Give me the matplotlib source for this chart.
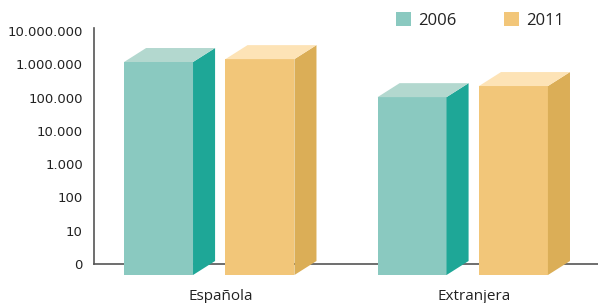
import numpy as np
import matplotlib.pyplot as plt
from matplotlib.patches import Polygon, Patch

# data
categories = ["Española", "Extranjera"]
years = ["2006", "2011"]
values_2006 = [1170000, 103000]
values_2011 = [1430000, 222000]
tick_values = [1, 10, 100, 1000, 10000, 100000, 1000000, 10000000]
tick_labels = ["0", "10", "100", "1.000", "10.000", "100.000", "1.000.000", "10.000.000"]

front = ["#8AC9C0", "#F2C679"]
side = ["#1EA797", "#DBAE57"]
top = ["#B3D8CF", "#FDE3B6"]

W, H = 598, 303
fig = plt.figure(figsize=(W / 100, H / 100), dpi=100)
ax = fig.add_axes([94 / W, (H - 280) / H, 1 - 94 / W, 260 / H])
ax.set_yscale("log")
ax.set_ylim(10 ** -0.48, 10 ** 7.33)
ax.set_xlim(-0.4546, 1.5335)

width = 0.272
offset = 0.2
dx = 0.087          # depth in x data units (~22 px)
k = 10 ** 0.42      # depth in log y (~14 px)
base = 10 ** -0.33  # front face bottom sits below the axis line

x = np.arange(len(categories))
for i, vals in enumerate([values_2006, values_2011]):
    for xc, v in zip(x + (i - 0.5) * 2 * offset, vals):
        xl, xr = xc - width / 2, xc + width / 2
        ax.add_patch(Polygon([(xl, base), (xr, base), (xr, v), (xl, v)],
                             closed=True, fc=front[i], ec="none", zorder=3))
        ax.add_patch(Polygon([(xr, base), (xr + dx, base * k), (xr + dx, v * k), (xr, v)],
                             closed=True, fc=side[i], ec="none", zorder=3))
        ax.add_patch(Polygon([(xl, v), (xl + dx, v * k), (xr + dx, v * k), (xr, v)],
                             closed=True, fc=top[i], ec="none", zorder=3))

# axes styling
for s in ["top", "right"]:
    ax.spines[s].set_visible(False)
ax.spines["bottom"].set_position(("data", 1))
ax.spines["left"].set_bounds(1, 10 ** 7.1)
for s in ["left", "bottom"]:
    ax.spines[s].set_color("#555555")
    ax.spines[s].set_linewidth(1.2)
    ax.spines[s].set_zorder(1)

ax.set_yticks(tick_values)
ax.set_yticklabels(tick_labels, fontsize=9.5, color="#222222", family="DejaVu Sans")
ax.yaxis.set_minor_locator(plt.NullLocator())
ax.tick_params(axis="y", length=0, pad=8)
ax.set_xticks([])

for xc, lab in zip(x, categories):
    ax.annotate(lab, xy=(xc + dx / 2, 0), xycoords=("data", "axes fraction"),
                xytext=(0, -17), textcoords="offset pixels", ha="center", va="center",
                fontsize=11, family="Open Sans", color="#222222", annotation_clip=False)

handles = [Patch(fc=front[0], ec="none"), Patch(fc=front[1], ec="none")]
fig.legend(handles, years, loc="upper left", bbox_to_anchor=(396 / W, 1 - 12 / H),
           ncol=2, frameon=False, prop={"family": "Open Sans", "size": 12},
           handlelength=0.9, handleheight=0.9, handletextpad=0.45, columnspacing=2.8,
           borderpad=0, borderaxespad=0, labelcolor="#222222")

fig.savefig("out.png", dpi=100)
